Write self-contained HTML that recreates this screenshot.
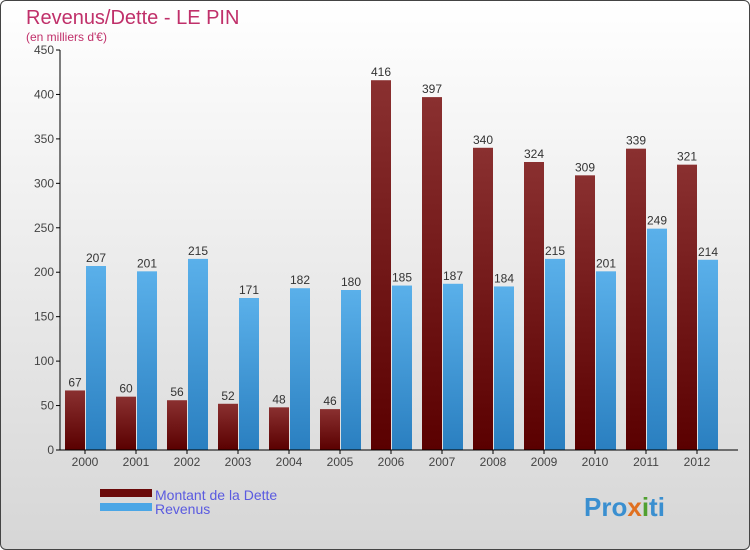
<!DOCTYPE html>
<html><head><meta charset="utf-8"><style>
body{margin:0;width:750px;height:550px;overflow:hidden;font-family:"Liberation Sans",sans-serif}
#c{position:absolute;left:0;top:0;width:748px;height:548px;border:1px solid #444;border-radius:6px;background:linear-gradient(#ffffff,#d6d6d6);}
</style></head><body>
<div id="c">
<svg id="s" width="750" height="550" style="position:absolute;left:-1px;top:-1px">
<defs>
<linearGradient id="gd" x1="0" y1="0" x2="0" y2="1"><stop offset="0" stop-color="#8a3030"/><stop offset="1" stop-color="#5a0000"/></linearGradient>
<linearGradient id="gr" x1="0" y1="0" x2="0" y2="1"><stop offset="0" stop-color="#5ab0ea"/><stop offset="1" stop-color="#2a7fc0"/></linearGradient>
</defs>
<text x="26" y="24" font-size="20" fill="#c0306a">Revenus/Dette - LE PIN</text>
<text x="26" y="41" font-size="12" fill="#c0306a">(en milliers d'€)</text>
<g id="g"></g>
<g>
<rect x="100" y="489" width="52" height="8" fill="#6a0a0a"/>
<text x="155" y="500" font-size="14" fill="#5a5ae0">Montant de la Dette</text>
<rect x="100" y="503" width="52" height="8" fill="#4aa6e6"/>
<text x="155" y="514" font-size="14" fill="#5a5ae0">Revenus</text>
</g>
<text x="584" y="516" font-size="26" font-weight="bold" fill="#3a8fd0">Pro<tspan fill="#e07020">x</tspan><tspan fill="#50a030">i</tspan>ti</text>
</svg>
</div>
<script>
const years=["2000","2001","2002","2003","2004","2005","2006","2007","2008","2009","2010","2011","2012"];
const dette=[67,60,56,52,48,46,416,397,340,324,309,339,321];
const revenus=[207,201,215,171,182,180,185,187,184,215,201,249,214];
const ticks=[0,50,100,150,200,250,300,350,400,450];
const NS="http://www.w3.org/2000/svg";
const g=document.getElementById('g');
const y=v=>450-v*400/450;
const x0=i=>85+i*51;
function mk(t,a,p){const e=document.createElementNS(NS,t);for(const k in a)e.setAttribute(k,a[k]);(p||g).appendChild(e);return e;}
ticks.forEach(t=>{
const l=mk('line',{x1:56,x2:60,y1:y(t),y2:y(t),stroke:'#000'});


const tx=mk('text',{x:54,y:y(t)+4,'font-size':12,'text-anchor':'end',fill:'#444'});tx.textContent=t;


});
years.forEach((yr,i)=>{
const cx=x0(i);
const b1=mk('rect',{x:cx-20,y:y(dette[i]),width:20,height:450-y(dette[i]),fill:'url(#gd)'});


const b2=mk('rect',{x:cx+1,y:y(revenus[i]),width:20,height:450-y(revenus[i]),fill:'url(#gr)'});


const t1=mk('text',{x:cx-10,y:y(dette[i])-4,'font-size':12,'text-anchor':'middle',fill:'#333'});t1.textContent=dette[i];


const t2=mk('text',{x:cx+11,y:y(revenus[i])-4,'font-size':12,'text-anchor':'middle',fill:'#333'});t2.textContent=revenus[i];


const tk=mk('line',{x1:cx,x2:cx,y1:450,y2:454,stroke:'#000'});


const xl=mk('text',{x:cx,y:466,'font-size':12,'text-anchor':'middle',fill:'#444'});xl.textContent=yr;


});
const ya=mk('line',{x1:60,x2:60,y1:50,y2:450,stroke:'#000'});


const xa=mk('line',{x1:60,x2:738,y1:450,y2:450,stroke:'#000'});


</script>
</body></html>
